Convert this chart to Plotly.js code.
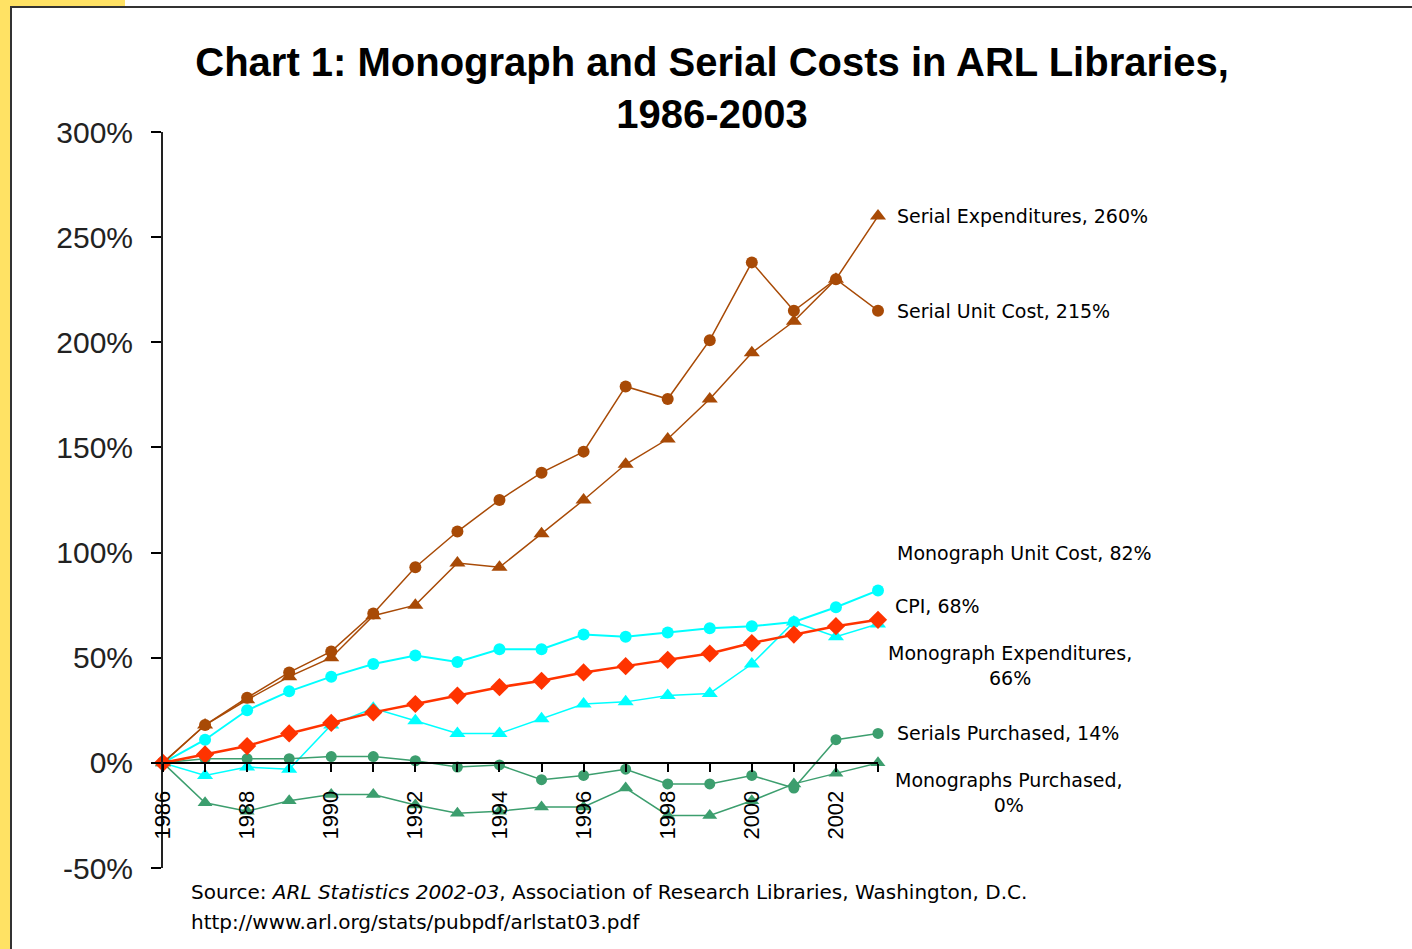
<!DOCTYPE html>
<html>
<head>
<meta charset="utf-8">
<script src="https://cdn.plot.ly/plotly-3.0.1.min.js"></script>
<style>html,body{margin:0;padding:0;background:#fff;}#chart{width:1412px;height:949px;}</style>
</head>
<body>
<div id="chart"></div>
<script>
// ---- data (percent change since 1986) ----
const years = [1986,1987,1988,1989,1990,1991,1992,1993,1994,1995,1996,1997,1998,1999,2000,2001,2002,2003];
const serialExpenditures = [0,18,30,41,50,70,75,95,93,109,125,142,154,173,195,210,230,260];
const serialUnitCost     = [0,18,31,43,53,71,93,110,125,138,148,179,173,201,238,215,230,215];
const monographUnitCost  = [0,11,25,34,41,47,51,48,54,54,61,60,62,64,65,67,74,82];
const monographExpend    = [0,-6,-2,-3,18,26,20,14,14,21,28,29,32,33,47,67,60,66];
const cpi                = [0,4,8,14,19,24,28,32,36,39,43,46,49,52,57,61,65,68];
const serialsPurchased   = [0,2,2,2,3,3,1,-2,-1,-8,-6,-3,-10,-10,-6,-12,11,14];
const monographsPurchased= [0,-19,-23,-18,-15,-15,-20,-24,-23,-21,-21,-12,-25,-25,-18,-10,-5,0];
const yTickVals = [-50,0,50,100,150,200,250,300];
const xTickVals = [1986,1988,1990,1992,1994,1996,1998,2000,2002];
const labelTexts = {
  serialExp: "Serial Expenditures, 260%",
  serialUnit: "Serial Unit Cost, 215%",
  monoUnit: "Monograph Unit Cost, 82%",
  cpi: "CPI, 68%",
  monoExp: "Monograph Expenditures,<br>66%",
  serialsP: "Serials Purchased, 14%",
  monosP: "Monographs Purchased,<br>0%"
};
const titleText = "Chart 1: Monograph and Serial Costs in ARL Libraries,<br>1986-2003";
const sourceLine1 = "Source: <i>ARL Statistics 2002-03</i>, Association of Research Libraries, Washington, D.C.";
const sourceLine2 = "http://www.arl.org/stats/pubpdf/arlstat03.pdf";

// ---- styling ----
const BROWN = '#A84A06', CYAN = '#00FFFF', RED = '#FF3300', GREEN = '#3C9E6E';
const FONT = 'Liberation Sans, Arial, sans-serif';
const LFONT = 'DejaVu Sans, sans-serif';

function tr(y, color, symbol, msize, lw) {
  return {x: years, y: y, type: 'scatter', mode: 'lines+markers', cliponaxis: false,
    line: {color: color, width: lw}, marker: {color: color, symbol: symbol, size: msize},
    hoverinfo: 'x+y'};
}
const traces = [
  tr(monographExpend, CYAN, 'triangle-up', 14, 1.5),
  tr(monographUnitCost, CYAN, 'circle', 12, 2),
  tr(serialExpenditures, BROWN, 'triangle-up', 14, 1.5),
  tr(serialUnitCost, BROWN, 'circle', 12, 1.5),
  tr(monographsPurchased, GREEN, 'triangle-up', 13, 1.5),
  tr(serialsPurchased, GREEN, 'circle', 11, 1.5),
  tr(cpi, RED, 'diamond', 14, 2.5)
];

// plot area pixels
const L = 163, R = 878, T = 132, B = 868, W = 1412, H = 949;
const px = v => (v - L) / (R - L);
const py = v => (B - v) / (B - T);

const last = a => a[a.length - 1];
function lab(text, yv, xshift, yshift, align) {
  return {xref: 'x', yref: 'y', x: 2003, y: yv, text: text, showarrow: false,
    xanchor: 'left', yanchor: 'middle', xshift: xshift, yshift: yshift, align: align || 'left',
    font: {family: LFONT, size: 19, color: '#000'}};
}
const annotations = [
  lab(labelTexts.serialExp, last(serialExpenditures), 17, 0),
  lab(labelTexts.serialUnit, last(serialUnitCost), 17, 0),
  lab(labelTexts.monoUnit, last(monographUnitCost), 17, 37),
  lab(labelTexts.cpi, last(cpi), 15, 14),
  lab(labelTexts.monoExp, last(monographExpend), 8, -41, 'center'),
  lab(labelTexts.serialsP, last(serialsPurchased), 17, 0),
  lab(labelTexts.monosP, last(monographsPurchased), 15, -30, 'center'),
  {xref: 'paper', yref: 'paper', x: px(189), y: py(892), xanchor: 'left', yanchor: 'middle',
   showarrow: false, text: sourceLine1, font: {family: LFONT, size: 20, color: '#000'}},
  {xref: 'paper', yref: 'paper', x: px(189), y: py(922), xanchor: 'left', yanchor: 'middle',
   showarrow: false, text: sourceLine2, font: {family: LFONT, size: 20, color: '#000'}}
];

const shapes = [
  {type: 'rect', xref: 'paper', yref: 'paper', x0: px(0), x1: px(10), y0: py(0), y1: py(H), fillcolor: '#FFE264', line: {width: 0}, layer: 'below'},
  {type: 'rect', xref: 'paper', yref: 'paper', x0: px(0), x1: px(125), y0: py(0), y1: py(7), fillcolor: '#FFE264', line: {width: 0}, layer: 'below'},
  {type: 'line', xref: 'paper', yref: 'paper', x0: px(11), x1: px(11), y0: py(7), y1: py(H), line: {color: '#333', width: 2}},
  {type: 'line', xref: 'paper', yref: 'paper', x0: px(10), x1: px(W), y0: py(7), y1: py(7), line: {color: '#333', width: 2}}
];

const layout = {
  width: W, height: H,
  margin: {l: L, r: W - R, t: T, b: H - B, pad: 0},
  paper_bgcolor: '#fff', plot_bgcolor: '#fff',
  showlegend: false,
  title: {text: titleText, font: {family: FONT, size: 40, color: '#000', weight: 'bold'},
    xref: 'container', yref: 'container', x: 712 / W, xanchor: 'center', y: 1 - 76 / H, yanchor: 'top'},
  xaxis: {type: 'linear', range: [1986, 2003], anchor: 'free', position: 50 / 350,
    showline: true, linecolor: '#000', linewidth: 2, showgrid: false, zeroline: false,
    tickmode: 'array', tickvals: xTickVals, ticktext: xTickVals.map(String),
    ticks: 'outside', ticklen: 8, tickwidth: 2, tickcolor: '#000', tickangle: -90,
    ticklabelstandoff: 10,
    minor: {dtick: 1, tick0: 1986, ticks: 'outside', ticklen: 8, tickwidth: 2, tickcolor: '#000', showgrid: false},
    tickfont: {family: FONT, size: 22, color: '#000'}},
  yaxis: {range: [-50, 300], tickmode: 'array', tickvals: yTickVals, ticktext: yTickVals.map(v => v + '%'),
    showline: true, linecolor: '#222', linewidth: 2, showgrid: false, zeroline: false,
    ticks: 'outside', ticklen: 10, tickwidth: 2, tickcolor: '#000', ticklabelstandoff: 12,
    tickfont: {family: FONT, size: 30, color: '#222'}},
  annotations: annotations,
  shapes: shapes
};

Plotly.newPlot('chart', traces, layout, {displayModeBar: false, staticPlot: true});
</script>
</body>
</html>
